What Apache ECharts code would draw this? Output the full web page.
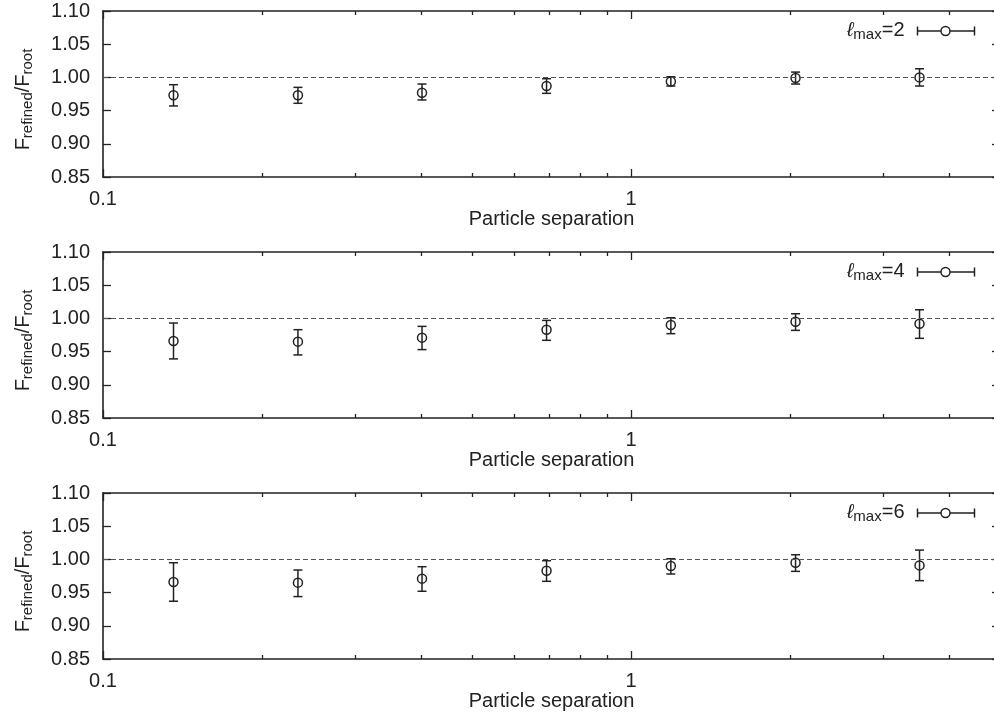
<!DOCTYPE html>
<html>
<head>
<meta charset="utf-8">
<script src="https://cdn.jsdelivr.net/npm/echarts@6/dist/echarts.min.js"></script>
<style>html,body{margin:0;padding:0;background:#fff;overflow:hidden}#c{width:1006px;height:715px}</style>
</head>
<body>
<div id="c"></div>
<script>
// ---- data ----
const xValues = [0.136, 0.234, 0.402, 0.692, 1.19, 2.05, 3.52];
const panelLabels = ['2', '4', '6'];
const values2 = [0.973, 0.973, 0.977, 0.987, 0.994, 0.999, 1.000];
const low2    = [0.957, 0.961, 0.966, 0.976, 0.987, 0.990, 0.987];
const high2   = [0.989, 0.985, 0.990, 0.998, 1.001, 1.008, 1.013];
const values4 = [0.966, 0.965, 0.971, 0.983, 0.990, 0.995, 0.992];
const low4    = [0.939, 0.945, 0.953, 0.967, 0.977, 0.982, 0.970];
const high4   = [0.993, 0.983, 0.988, 0.997, 1.001, 1.007, 1.013];
const values6 = [0.966, 0.965, 0.971, 0.983, 0.990, 0.995, 0.991];
const low6    = [0.937, 0.944, 0.952, 0.967, 0.978, 0.982, 0.968];
const high6   = [0.995, 0.984, 0.989, 0.998, 1.001, 1.007, 1.014];
const majorXTicks = [0.1, 1];
const minorXTicks = [0.2, 0.3, 0.4, 0.5, 0.6, 0.7, 0.8, 0.9, 2, 3, 4];
const xRange = [0.1, 5];
const yRange = [0.85, 1.10];
const yStep = 0.05;
const refValue = 1.0;
const xTitle = 'Particle separation';

const panels = [
  {label: panelLabels[0], v: values2, lo: low2, hi: high2},
  {label: panelLabels[1], v: values4, lo: low4, hi: high4},
  {label: panelLabels[2], v: values6, lo: low6, hi: high6}
];

// ---- layout / style ----
const FONT = '"Liberation Sans", Arial, Helvetica, sans-serif';
const INK = '#222';
const gridTops = [11, 252, 493];
const gridH = 166, gridL = 103, gridR = 6;

const chart = echarts.init(document.getElementById('c'));
const grid = [], xAxis = [], yAxis = [], series = [], legend = [];

const axisLine = {show: true, onZero: false, lineStyle: {color: INK, width: 1.6}};
const noLine = {show: false, onZero: false};

function renderItem(params, api) {
  const x = api.value(0);
  const c = api.coord([x, api.value(1)]);
  const pl = api.coord([x, api.value(2)]);
  const ph = api.coord([x, api.value(3)]);
  const st = {stroke: INK, lineWidth: 1.5, fill: null};
  const cw = 4.5;
  return {type: 'group', children: [
    {type: 'line', shape: {x1: c[0], y1: ph[1], x2: c[0], y2: pl[1]}, style: st},
    {type: 'line', shape: {x1: c[0] - cw, y1: ph[1], x2: c[0] + cw, y2: ph[1]}, style: st},
    {type: 'line', shape: {x1: c[0] - cw, y1: pl[1], x2: c[0] + cw, y2: pl[1]}, style: st},
    {type: 'circle', shape: {cx: c[0], cy: c[1], r: 4.5}, style: {stroke: INK, lineWidth: 1.5, fill: 'none'}}
  ]};
}

const legendIcon = 'path://M0,3.5L0,12.5M0,8L23.5,8M32.5,8L57,8M57,3.5L57,12.5M32.5,8A4.5,4.5,0,1,1,23.5,8A4.5,4.5,0,1,1,32.5,8';

panels.forEach((p, i) => {
  grid.push({left: gridL, top: gridTops[i], right: gridR, height: gridH, containLabel: false});
  const xb = xAxis.length;
  // bottom major (labels + name)
  xAxis.push({type: 'log', logBase: 10, gridIndex: i, position: 'bottom', min: xRange[0], max: xRange[1],
    axisLine: axisLine, splitLine: {show: false},
    axisTick: {show: true, inside: true, length: 8, customValues: majorXTicks, lineStyle: {color: INK, width: 1.3}},
    axisLabel: {show: true, customValues: majorXTicks, margin: 12, fontFamily: FONT, fontSize: 20, color: INK,
      formatter: v => String(v)},
    name: xTitle, nameLocation: 'middle', nameGap: 29,
    nameTextStyle: {fontFamily: FONT, fontSize: 20, color: INK, verticalAlign: 'top'}
  });
  // bottom minor
  xAxis.push({type: 'log', logBase: 10, gridIndex: i, position: 'bottom', min: xRange[0], max: xRange[1],
    axisLine: noLine, splitLine: {show: false}, axisLabel: {show: false},
    axisTick: {show: true, inside: true, length: 4, customValues: minorXTicks, lineStyle: {color: INK, width: 1.3}}
  });
  // top major
  xAxis.push({type: 'log', logBase: 10, gridIndex: i, position: 'top', min: xRange[0], max: xRange[1],
    axisLine: axisLine, splitLine: {show: false}, axisLabel: {show: false},
    axisTick: {show: true, inside: true, length: 8, customValues: majorXTicks, lineStyle: {color: INK, width: 1.3}}
  });
  // top minor
  xAxis.push({type: 'log', logBase: 10, gridIndex: i, position: 'top', min: xRange[0], max: xRange[1],
    axisLine: noLine, splitLine: {show: false}, axisLabel: {show: false},
    axisTick: {show: true, inside: true, length: 4, customValues: minorXTicks, lineStyle: {color: INK, width: 1.3}}
  });
  const yb = yAxis.length;
  yAxis.push({type: 'value', gridIndex: i, position: 'left', min: yRange[0], max: yRange[1], interval: yStep,
    axisLine: axisLine, splitLine: {show: false},
    axisTick: {show: true, inside: true, length: 8, lineStyle: {color: INK, width: 1.3}},
    axisLabel: {show: true, margin: 13, fontFamily: FONT, fontSize: 20, color: INK, formatter: v => v.toFixed(2)},
    name: '{f|F}{s|refined}{f|/F}{s|root}', nameLocation: 'middle', nameRotate: 90, nameGap: 68,
    nameTextStyle: {fontFamily: FONT, color: INK, padding: [0, 11, 0, 0],
      rich: {
        f: {fontFamily: FONT, fontSize: 20, lineHeight: 22, verticalAlign: 'top', color: INK},
        s: {fontFamily: FONT, fontSize: 15, lineHeight: 15, verticalAlign: 'bottom', padding: [12, 0, 0, 0], color: INK}
      }}
  });
  yAxis.push({type: 'value', gridIndex: i, position: 'right', min: yRange[0], max: yRange[1], interval: yStep,
    axisLine: axisLine, splitLine: {show: false}, axisLabel: {show: false},
    axisTick: {show: true, inside: true, length: 8, lineStyle: {color: INK, width: 1.3}}
  });
  const name = 'ℓmax=' + p.label;
  series.push({
    type: 'custom', name: name, xAxisIndex: xb, yAxisIndex: yb,
    renderItem: renderItem,
    encode: {x: 0, y: 1},
    data: xValues.map((x, k) => [x, p.v[k], p.lo[k], p.hi[k]]),
    itemStyle: {color: 'none', borderColor: INK, borderWidth: 1.5},
    markLine: {silent: true, symbol: 'none', label: {show: false},
      lineStyle: {color: '#555', width: 1.1, type: [5, 3]},
      data: [{yAxis: refValue}]},
    z: 3
  });
  legend.push({
    data: [name], right: 24, top: gridTops[i] - 1, align: 'right', orient: 'horizontal',
    icon: legendIcon, itemWidth: 57, itemHeight: 9, selectedMode: false,
    itemStyle: {color: 'none', borderColor: INK, borderWidth: 1.5},
    formatter: () => '{l|ℓ}{s|max}{n|=' + p.label + '}',
    textStyle: {fontFamily: FONT, color: INK, padding: [0, 8, 0, 0],
      rich: {
        l: {fontFamily: FONT, fontSize: 20, lineHeight: 22, verticalAlign: 'top', fontStyle: 'italic', color: INK},
        n: {fontFamily: FONT, fontSize: 20, lineHeight: 22, verticalAlign: 'top', color: INK},
        s: {fontFamily: FONT, fontSize: 15, lineHeight: 15, verticalAlign: 'bottom', padding: [12, 0, 0, 0], color: INK}
      }}
  });
});

chart.setOption({
  animation: false,
  backgroundColor: '#fff',
  grid, xAxis, yAxis, series, legend
});
</script>
</body>
</html>
